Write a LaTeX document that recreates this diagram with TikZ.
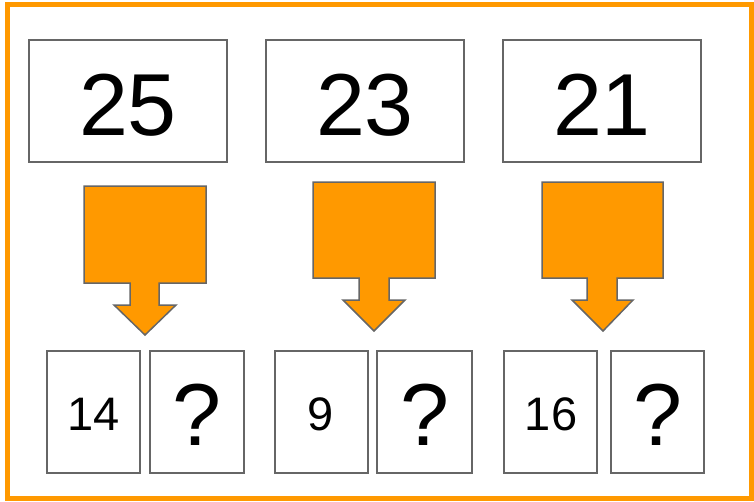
\documentclass[tikz,border=0pt]{standalone}
\usepackage{fontspec}
\setmainfont{Liberation Sans}
\definecolor{frameorange}{HTML}{FF9900}
\definecolor{boxgray}{HTML}{666666}
\begin{document}
\begin{tikzpicture}[x=1pt,y=-1pt,
  bigbox/.style={draw=boxgray,line width=1.5pt,fill=white,inner sep=0pt},
  cardbox/.style={draw=boxgray,line width=1.5pt,fill=white,inner sep=0pt},
  bignum/.style={font=\fontsize{88}{90}\selectfont,anchor=base,inner sep=0pt},
  smallnum/.style={font=\fontsize{47}{50}\selectfont,anchor=base,inner sep=0pt},
  callout/.style={draw=boxgray,line width=1.5pt,fill=frameorange,line join=miter}]
\useasboundingbox (0,0) rectangle (754,501);
\draw[frameorange,line width=5pt] (7,4) rectangle (751,498);
% big boxes
\draw[bigbox] (29,40) rectangle (227,162);
\draw[bigbox] (266,40) rectangle (464,162);
\draw[bigbox] (503,40) rectangle (701,162);
\node[bignum] (n25) at (128,135) {25};
\node[bignum] (n23) at (365,135) {23};
\node[bignum] (n21) at (602,135) {21};
% arrows
\draw[callout] (84,186) -- (206,186) -- (206,283) -- (159,283) -- (159,305) -- (176,305)
  -- (145,335) -- (114,305) -- (130,305) -- (130,283) -- (84,283) -- cycle;
\draw[callout] (313,182) -- (435,182) -- (435,278) -- (389,278) -- (389,300) -- (405,300)
  -- (374,331) -- (343,300) -- (359,300) -- (359,278) -- (313,278) -- cycle;
\draw[callout] (542,182) -- (663,182) -- (663,278) -- (617,278) -- (617,300) -- (633,300)
  -- (603,331) -- (572,300) -- (587,300) -- (587,278) -- (542,278) -- cycle;
% cards
\draw[cardbox] (47,351) rectangle (140,473);
\draw[cardbox] (150,351) rectangle (244,473);
\draw[cardbox] (275,351) rectangle (368,473);
\draw[cardbox] (377,351) rectangle (472,473);
\draw[cardbox] (504,351) rectangle (597,473);
\draw[cardbox] (611,351) rectangle (704,473);
\node[smallnum] (c14) at (94,430) {14};
\node[bignum] (q1) at (197,445) {?};
\node[smallnum] (c9) at (321,430) {9};
\node[bignum] (q2) at (425,445) {?};
\node[smallnum] (c16) at (551,430) {16};
\node[bignum] (q3) at (658,445) {?};
\end{tikzpicture}
\end{document}
